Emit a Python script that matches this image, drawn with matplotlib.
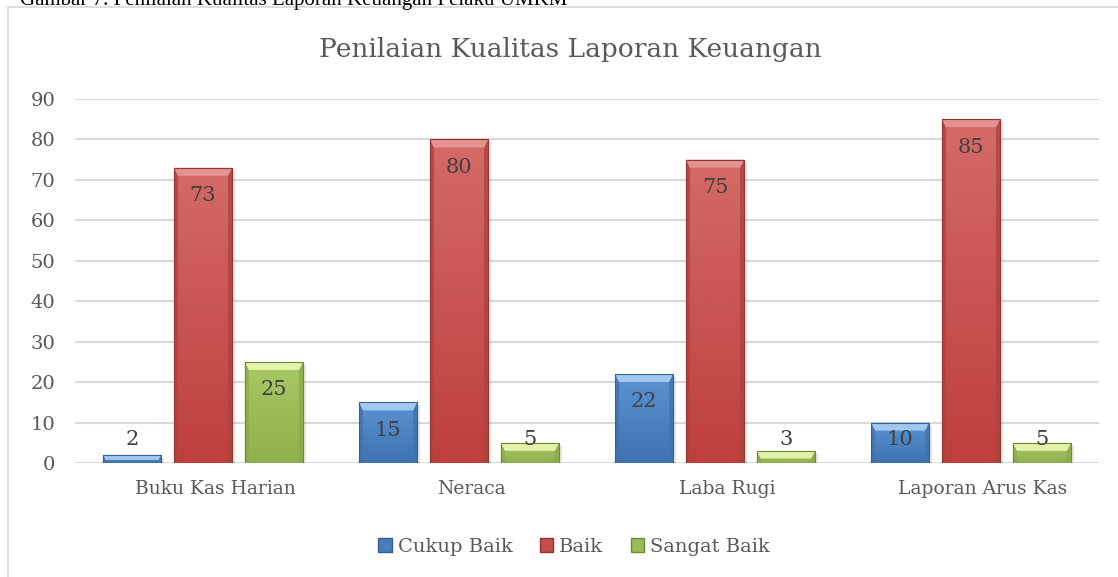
import matplotlib
matplotlib.use("Agg")
import matplotlib.pyplot as plt
from matplotlib.patches import Rectangle, Polygon, Patch
import matplotlib.transforms as mtransforms
import numpy as np

categories = ["Buku Kas Harian", "Neraca", "Laba Rugi", "Laporan Arus Kas"]
series_names = ["Cukup Baik", "Baik", "Sangat Baik"]
cukup_baik = [2, 15, 22, 10]
baik = [73, 80, 75, 85]
sangat_baik = [25, 5, 3, 5]
yticks = [0, 10, 20, 30, 40, 50, 60, 70, 80, 90]

light_cols = ["#5B93D3", "#D46A67", "#A9C866"]
dark_cols = ["#3F73B0", "#BE3F3C", "#8FB04C"]
main_cols = ["#4A7EBB", "#C44E4B", "#9BBB59"]
top_cols = ["#A3C8F0", "#E49390", "#E4F2AC"]
side_cols = ["#4272AB", "#B0423F", "#8AAA4D"]
edge_cols = ["#35608F", "#933431", "#6F8B3A"]

W, H = 1118, 577
fig = plt.figure(figsize=(W / 100, H / 100), dpi=100)
fig.patch.set_facecolor("white")

serif = ["DejaVu Serif"]
txtc = "#595959"

# cropped caption at the very top (cut off in the reference too)
fig.text(20 / W, 1 - 5 / H, "Gambar 7. Penilaian Kualitas Laporan Keuangan Pelaku UMKM",
         fontsize=15, family=["Liberation Serif"], color="black", va="baseline", ha="left")

# chart border
fig.add_artist(Rectangle((8 / W, -0.01), 1.2, 1 - 7 / H + 0.01, transform=fig.transFigure,
                         fill=True, facecolor="white", edgecolor="#D9D9D9", lw=1.2, zorder=0))

ax = fig.add_axes([75 / W, 1 - 463 / H, (1099 - 75) / W, (463 - 99) / H])
ax.set_facecolor("none")
ax.set_xlim(-0.5, len(categories) - 0.5)
ax.set_ylim(0, 90)
ax.set_yticks(yticks)
ax.yaxis.grid(True, color="#D9D9D9", lw=1.5, zorder=0)
ax.set_axisbelow(True)
for s in ax.spines.values():
    s.set_visible(False)
ax.tick_params(axis="both", length=0, colors=txtc, labelsize=14)
ax.tick_params(axis="y", pad=14)
ax.tick_params(axis="x", pad=12, labelsize=13.5)
ax.set_xticks(np.arange(len(categories)))
ax.set_xticklabels(categories, family=serif)
off = mtransforms.ScaledTranslation(12 / 100, 0, fig.dpi_scale_trans)
for lab in ax.get_xticklabels():
    lab.set_transform(lab.get_transform() + off)
for lab in ax.get_yticklabels():
    lab.set_family(serif)

x = np.arange(len(categories))
bw = 0.227
step = 0.277
all_series = [cukup_baik, baik, sangat_baik]

fig.canvas.draw()
to_disp = ax.transData
to_data = ax.transData.inverted()

grad = np.linspace(0, 1, 64).reshape(-1, 1)

for i, vals in enumerate(all_series):
    xs = x + (i - 1) * step
    bars = ax.bar(xs, vals, width=bw, color=main_cols[i], edgecolor="none",
                  lw=0, zorder=3)
    cmap = matplotlib.colors.LinearSegmentedColormap.from_list(
        "g%d" % i, [dark_cols[i], light_cols[i]])
    for b, v in zip(bars, vals):
        x0, y0 = b.get_x(), b.get_y()
        x1, y1 = x0 + b.get_width(), y0 + b.get_height()
        im = ax.imshow(grad, extent=(x0, x1, y0, y1), origin="lower", cmap=cmap,
                       aspect="auto", zorder=3.5, interpolation="bilinear")
        im.set_clip_path(b)
        (dx0, dy0), (dx1, dy1) = to_disp.transform([(x0, y0), (x1, y1)])
        bev = min(8.0, (dy1 - dy0) / 1.6, (dx1 - dx0) / 2.0)
        # shadow
        sh = to_data.transform([(dx0 + 3, dy0 - 2), (dx1 + 3, dy1 - 3)])
        ax.add_patch(Rectangle(sh[0], sh[1][0] - sh[0][0], sh[1][1] - sh[0][1],
                               facecolor="#000000", alpha=0.10, lw=0, zorder=2))
        def P(pts, c, a=1.0):
            d = to_data.transform(pts)
            ax.add_patch(Polygon(d, closed=True, facecolor=c, edgecolor="none",
                                 alpha=a, zorder=4))
        sb = bev * 0.5
        P([(dx0, dy0), (dx0, dy1), (dx0 + sb, dy1 - bev), (dx0 + sb, dy0)], side_cols[i], 0.8)
        P([(dx1, dy0), (dx1, dy1), (dx1 - sb, dy1 - bev), (dx1 - sb, dy0)], side_cols[i], 0.8)
        P([(dx0, dy1), (dx1, dy1), (dx1 - sb, dy1 - bev), (dx0 + sb, dy1 - bev)], top_cols[i])
        ax.add_patch(Rectangle((x0, y0), x1 - x0, y1 - y0, facecolor="none",
                               edgecolor=edge_cols[i], lw=0.8, zorder=5))
        ly = max(v - 6.9, 5.9)
        ax.text(b.get_x() + b.get_width() / 2, ly, str(v), ha="center", va="center",
                fontsize=15, family=serif, color="#404040", zorder=6)

fig.text(570 / W, 1 - 50 / H, "Penilaian Kualitas Laporan Keuangan", ha="center", va="center",
         fontsize=19, family=serif, color=txtc)

handles = [Patch(facecolor=main_cols[i], edgecolor=edge_cols[i], label=series_names[i])
           for i in range(3)]
leg = fig.legend(handles=handles, loc="center", bbox_to_anchor=(574 / W, 1 - 547 / H),
                 ncol=3, frameon=False, handlelength=0.7, handleheight=0.7,
                 handletextpad=0.3, columnspacing=1.4,
                 prop={"family": serif, "size": 14})
for t in leg.get_texts():
    t.set_color(txtc)

fig.savefig("out.png", dpi=100, facecolor=fig.get_facecolor())
